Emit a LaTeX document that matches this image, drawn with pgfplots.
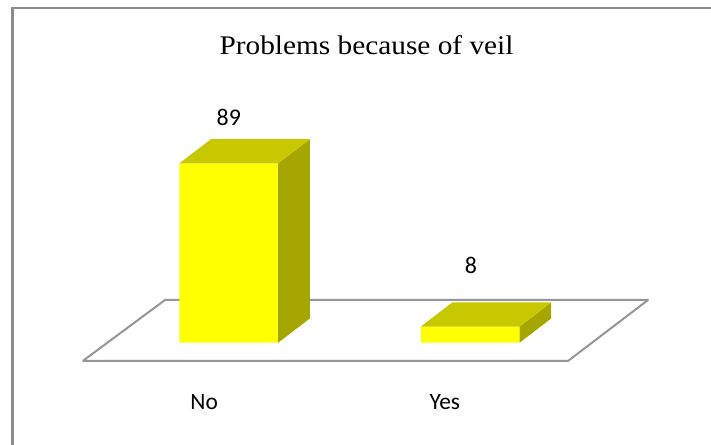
\documentclass[border=0pt]{standalone}
\usepackage{pgfplots}
\pgfplotsset{compat=1.18}
\usepackage{fontspec}
\setmainfont{Liberation Serif}
\newfontfamily\labelfont{Carlito}

\definecolor{barfront}{RGB}{255,255,0}
\definecolor{bartop}{RGB}{200,200,0}
\definecolor{barside}{RGB}{166,166,0}
\definecolor{floorline}{RGB}{150,150,150}
\definecolor{frameline}{RGB}{140,140,140}

\begin{document}
\begin{tikzpicture}
\begin{axis}[
  scale only axis,
  width=711bp, height=445bp,
  xmin=-0.9478, xmax=1.9975,
  ymin=-50.77, ymax=170.07,
  axis line style={draw=none},
  ticks=none,
  clip=true,
]
% chart area frame
\addplot[frameline, line width=2.4bp] coordinates {(2.2,166.2) (-0.8960,166.2) (-0.8960,-60)};

% floor of the 3-D plot
\addplot[floorline, line width=2bp, line join=round] coordinates {
  (-0.6052,-9.08) (1.4051,-9.08) (1.7366,21.19) (-0.2643,21.19) (-0.6052,-9.08)};

% front faces of the bars
\addplot[ybar, bar width=0.409, fill=barfront, draw=none] coordinates {(0,89) (1,8)};

% side faces (depth offset 0.1309 in x, 12.01 in y)
\addplot[fill=barside, draw=none] coordinates {
  (0.2045,0) (0.3354,12.01) (0.3354,101.01) (0.2045,89) (0.2045,0)};
\addplot[fill=barside, draw=none] coordinates {
  (1.2045,0) (1.3354,12.01) (1.3354,20.01) (1.2045,8) (1.2045,0)};

% top faces
\addplot[fill=bartop, draw=none] coordinates {
  (-0.2045,89) (0.2045,89) (0.3354,101.01) (-0.0736,101.01) (-0.2045,89)};
\addplot[fill=bartop, draw=none] coordinates {
  (0.7955,8) (1.2045,8) (1.3354,20.01) (0.9264,20.01) (0.7955,8)};

% title, value labels and category labels
\node[anchor=base, xscale=1.09, font=\fontsize{27}{32}\selectfont] at (axis cs:0.5704,142.8) {Problems because of veil};
\node[anchor=base, font=\labelfont\fontsize{24}{28}\selectfont] at (axis cs:0,107.7) {89};
\node[anchor=base, font=\labelfont\fontsize{24}{28}\selectfont] at (axis cs:1.0025,34.4) {8};
\node[anchor=base, font=\labelfont\fontsize{23.5}{28}\selectfont] at (axis cs:-0.1019,-33.4) {No};
\node[anchor=base, font=\labelfont\fontsize{23.5}{28}\selectfont] at (axis cs:0.8948,-33.4) {Yes};
\end{axis}
\end{tikzpicture}
\end{document}
